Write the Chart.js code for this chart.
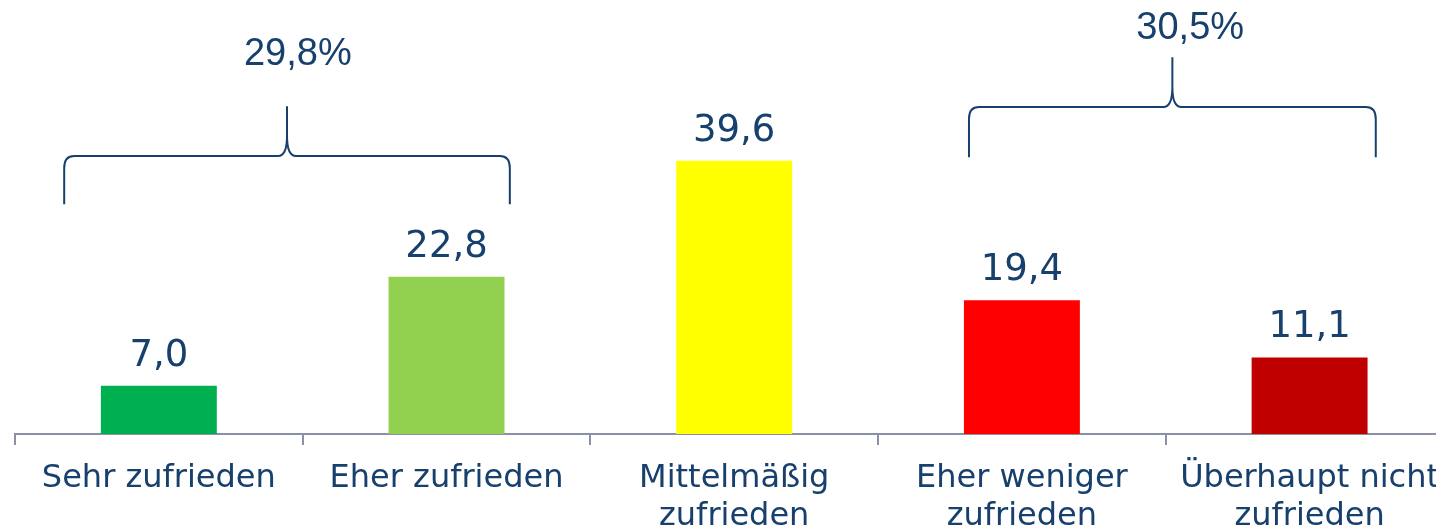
<!DOCTYPE html>
<html>
<head>
<meta charset="utf-8">
<script src="https://cdn.jsdelivr.net/npm/chart.js@4"></script>
<style>
  body { margin: 0; overflow: hidden; background: #fff; }
  #wrap { width: 1454px; height: 531px; position: relative; }
</style>
</head>
<body>
<div id="wrap"><canvas id="satChart"></canvas></div>
<script>
// data
var categories = [
  ['Sehr zufrieden'],
  ['Eher zufrieden'],
  ['Mittelmäßig', 'zufrieden'],
  ['Eher weniger', 'zufrieden'],
  ['Überhaupt nicht', 'zufrieden']
];
var shares = [7.0, 22.8, 39.6, 19.4, 11.1];
var barColors = ['#00B050', '#92D050', '#FFFF00', '#FF0000', '#C00000'];

// summary brackets over groups of bars
var bracketLabels = ['29,8%', '30,5%'];

// bracket placement in scale units (x = category index, y = value)
var bracketLayout = [
  { x0: -0.329, x1: 1.22, labelX: 0.483, yEnd: 33.3, yLine: 40.3, yPeak: 47.5, yText: 53.5 },
  { x0: 2.816, x1: 4.23, labelX: 3.585, yEnd: 40.1, yLine: 47.4, yPeak: 54.6, yText: 57.2 }
];

var textBlue = '#17406d';
var axisGrey = '#8b90a6';

function fmt(v) {
  return v.toFixed(1).replace('.', ',');
}

var valueLabels = {
  id: 'valueLabels',
  afterDatasetsDraw: function(chart) {
    var ctx = chart.ctx;
    var meta = chart.getDatasetMeta(0);
    ctx.save();
    ctx.fillStyle = textBlue;
    ctx.font = '37px "DejaVu Sans"';
    ctx.textAlign = 'center';
    ctx.textBaseline = 'alphabetic';
    meta.data.forEach(function(bar, i) {
      ctx.fillText(fmt(shares[i]), bar.x, bar.y - 20);
    });
    ctx.restore();
  }
};

function drawBrace(ctx, xa, xb, yEnd, yLine, yPeak) {
  var xm = (xa + xb) / 2;
  var r = 10;
  ctx.beginPath();
  // left half
  ctx.moveTo(xa, yEnd);
  ctx.lineTo(xa, yLine + r + 2);
  ctx.quadraticCurveTo(xa, yLine, xa + r, yLine);
  ctx.lineTo(xm - 9, yLine);
  ctx.quadraticCurveTo(xm, yLine, xm, yLine - 20);
  ctx.lineTo(xm, yPeak);
  // right half
  ctx.moveTo(xb, yEnd);
  ctx.lineTo(xb, yLine + r + 2);
  ctx.quadraticCurveTo(xb, yLine, xb - r, yLine);
  ctx.lineTo(xm + 9, yLine);
  ctx.quadraticCurveTo(xm, yLine, xm, yLine - 20);
  ctx.stroke();
}

var brackets = {
  id: 'brackets',
  afterDraw: function(chart) {
    var ctx = chart.ctx;
    var xs = chart.scales.x, ys = chart.scales.y;
    ctx.save();
    ctx.strokeStyle = textBlue;
    ctx.lineWidth = 2;
    ctx.fillStyle = textBlue;
    ctx.font = '38px "Liberation Sans"';
    ctx.textAlign = 'center';
    ctx.textBaseline = 'alphabetic';
    bracketLayout.forEach(function(b, i) {
      drawBrace(ctx,
        xs.getPixelForValue(b.x0), xs.getPixelForValue(b.x1),
        ys.getPixelForValue(b.yEnd), ys.getPixelForValue(b.yLine),
        ys.getPixelForValue(b.yPeak));
      ctx.fillText(bracketLabels[i], xs.getPixelForValue(b.labelX), ys.getPixelForValue(b.yText));
    });
    ctx.restore();
  }
};

var config = {
  type: 'bar',
  data: {
    labels: categories,
    datasets: [{
      data: shares,
      backgroundColor: barColors,
      borderWidth: 0,
      barPercentage: 0.403,
      categoryPercentage: 1
    }]
  },
  options: {
    responsive: true,
    maintainAspectRatio: false,
    animation: false,
    layout: { padding: { left: 15, right: 0, top: 0, bottom: 0 } },
    plugins: {
      legend: { display: false },
      tooltip: { enabled: false },
      title: { display: false }
    },
    scales: {
      x: {
        grid: {
          drawOnChartArea: false,
          drawTicks: true,
          tickLength: 11,
          color: axisGrey,
          lineWidth: 2
        },
        border: { display: true, color: axisGrey, width: 2 },
        ticks: {
          color: textBlue,
          padding: 15,
          maxRotation: 0,
          autoSkip: false,
          font: { family: '"DejaVu Sans"', size: 32, lineHeight: '38px' }
        },
        afterFit: function(s) { s.height = 97; }
      },
      y: {
        display: false,
        min: 0,
        max: 62.9
      }
    }
  },
  plugins: [valueLabels, brackets]
};

new Chart(document.getElementById('satChart'), config);
</script>
</body>
</html>
